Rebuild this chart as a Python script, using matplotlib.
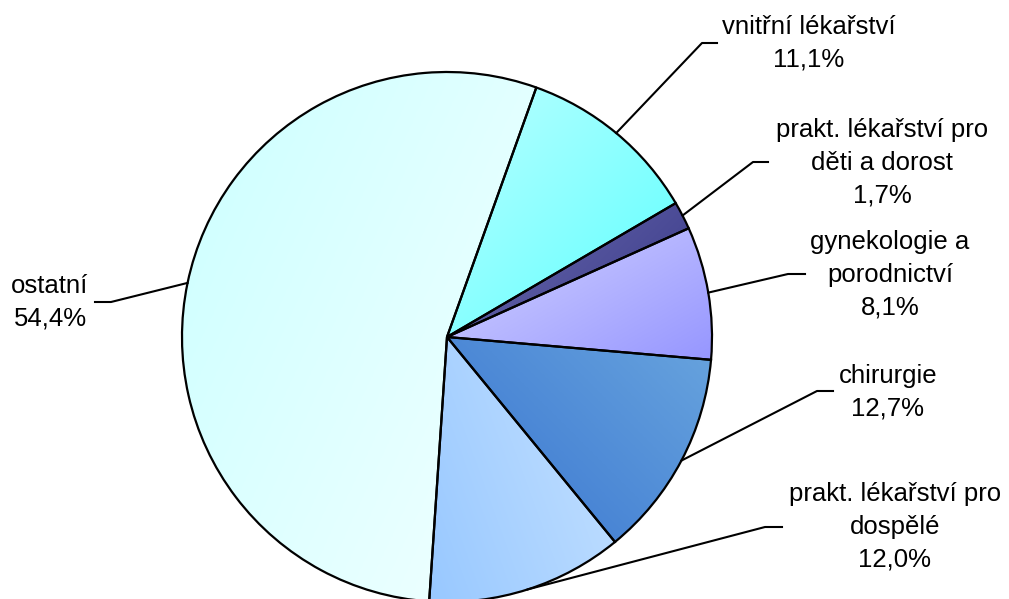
import numpy as np
import matplotlib
matplotlib.use("Agg")
import matplotlib.pyplot as plt
from matplotlib.colors import LinearSegmentedColormap

plt.rcParams['font.family'] = ['Liberation Sans', 'DejaVu Sans']

# data
labels = ['vnitřní lékařství', 'prakt. lékařství pro\nděti a dorost', 'gynekologie a\nporodnictví',
          'chirurgie', 'prakt. lékařství pro\ndospělé', 'ostatní']
values = [11.1, 1.7, 8.1, 12.7, 12.0, 54.4]

# gradient colours per slice (from, to, direction in degrees)
grad_from = ['#BAFFFF', '#6C6CAE', '#D4D4FF', '#68A4DE', '#C6E2FF', '#CCFFFF']
grad_to = ['#5CFFFF', '#3A3A8A', '#9696FF', '#3874D0', '#98C8FF', '#F2FFFF']
grad_dir = [-45, -45, -60, 225, 200, -25]

# label layout in picture pixels: text centre, elbow, line end
text_px = [(809, 43), (882, 163), (890, 275), (888, 392), (895, 527), (50, 302)]
elbow_px = [(702, 43), (753, 162), (788, 274), (817, 391), (765, 527), (111, 302)]
end_px = [(717, 43), (768, 162), (805, 274), (833, 391), (782, 527), (95, 302)]

W, H = 1009, 599
CX, CY, R = 447, 337, 265


def px(p):
    return ((p[0] - CX) / R, (CY - p[1]) / R)


fig = plt.figure(figsize=(W / 100, H / 100), dpi=100)
ax = fig.add_axes([0, 0, 1, 1])

wedges, _ = ax.pie(values, startangle=70.3, counterclock=False, radius=1,
                   wedgeprops=dict(edgecolor='black', linewidth=1.6, facecolor='none'))

for w, c1, c2, d in zip(wedges, grad_from, grad_to, grad_dir):
    w.set_zorder(3)
    ext = w.get_path().get_extents()
    x0, y0, x1, y1 = ext.x0, ext.y0, ext.x1, ext.y1
    n = 200
    xs = np.linspace(0, 1, n)
    ys = np.linspace(0, 1, n)
    gx, gy = np.meshgrid(xs, ys)
    a = np.deg2rad(d)
    ux, uy = np.cos(a) * (x1 - x0), np.sin(a) * (y1 - y0)
    t = gx * ux + gy * uy
    t = (t - t.min()) / (t.max() - t.min())
    cmap = LinearSegmentedColormap.from_list('g', [c1, c2])
    im = ax.imshow(t, cmap=cmap, extent=(x0, x1, y0, y1), origin='lower',
                   interpolation='bilinear', zorder=2, aspect='auto')
    im.set_clip_path(w)

# leader lines and labels
for w, lab, v, tp, ep, np_ in zip(wedges, labels, values, text_px, elbow_px, end_px):
    mid = np.deg2rad((w.theta1 + w.theta2) / 2)
    start = (np.cos(mid), np.sin(mid))
    e = px(ep)
    f = px(np_)
    ax.plot([start[0], e[0], f[0]], [start[1], e[1], f[1]], color='black', lw=1.5, zorder=4)
    tx, ty = px(tp)
    pct = f"{v:.1f}%".replace('.', ',')
    ax.text(tx, ty, f"{lab}\n{pct}", ha='center', va='center',
            multialignment='center', fontsize=18.5, linespacing=1.45, zorder=5)

ax.set_xlim(-CX / R, (W - CX) / R)
ax.set_ylim(-(H - CY) / R, CY / R)
ax.set_aspect('equal')
ax.axis('off')

fig.savefig('out.png', dpi=100)
